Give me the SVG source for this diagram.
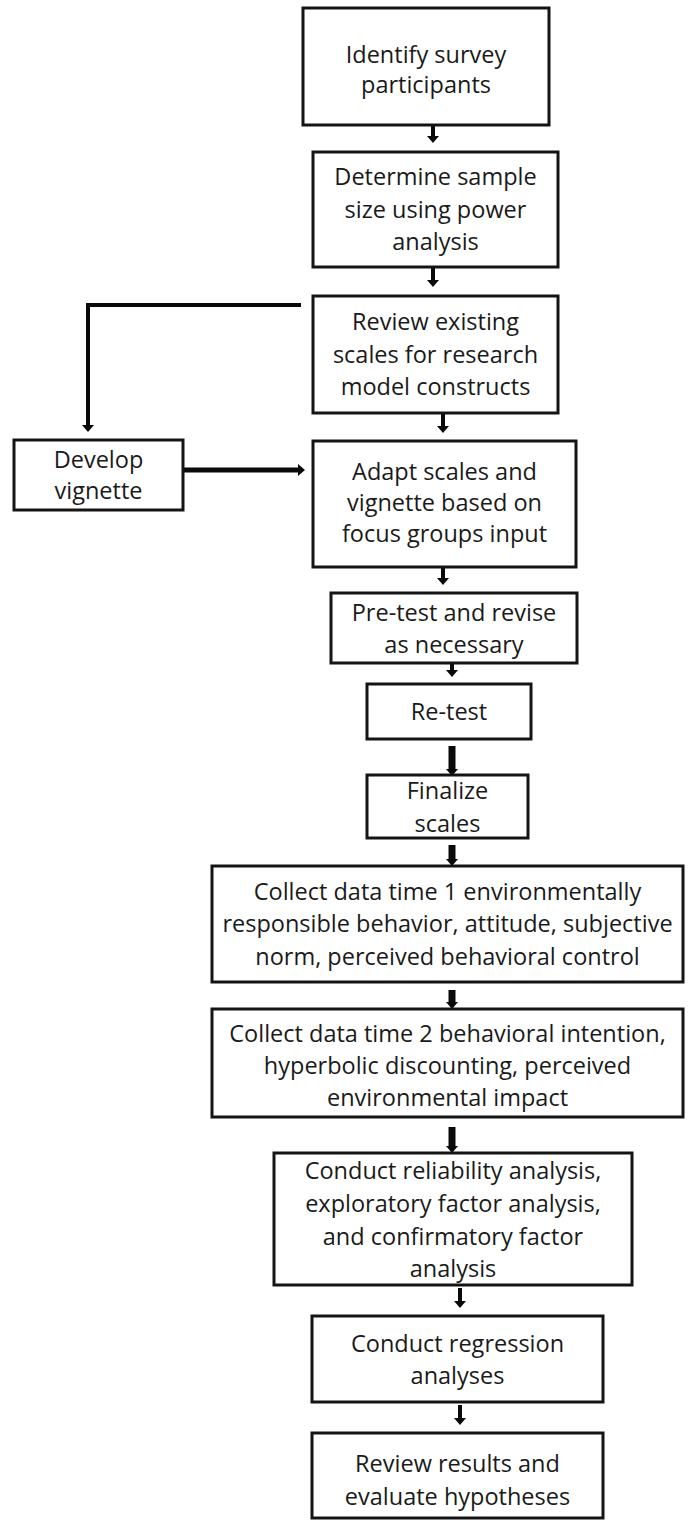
<svg xmlns="http://www.w3.org/2000/svg" width="699" height="1520" viewBox="0 0 699 1520">
  <style>
    .box { fill: #ffffff; stroke: #141414; stroke-width: 3; }
    .lbl { font-family: "Open Sans", "Liberation Sans", sans-serif; font-size: 23.5px; fill: #1a1a1a; text-anchor: middle; }
    .conn { fill: none; stroke: #0a0a0a; stroke-width: 4; }
    .conn.thick { stroke-width: 7; }
  </style>
  <defs>
    <marker id="head" markerUnits="userSpaceOnUse" viewBox="0 0 7 12" refX="0" refY="6" markerWidth="7" markerHeight="12" orient="auto">
      <path d="M0,0 L7,6 L0,12 Z" fill="#0a0a0a"/>
    </marker>
  </defs>
  <rect width="699" height="1520" fill="#ffffff"/>

  <!-- connectors -->
  <g id="connectors">
    <line class="conn" x1="433" y1="125" x2="433" y2="136" marker-end="url(#head)"/>
    <line class="conn" x1="433" y1="267" x2="433" y2="280" marker-end="url(#head)"/>
    <path class="conn" d="M301,305 H88 V425" marker-end="url(#head)"/>
    <line class="conn" x1="443" y1="413" x2="443" y2="426" marker-end="url(#head)"/>
    <line class="conn" x1="183" y1="470" x2="298" y2="470" style="stroke-width:5" marker-end="url(#head)"/>
    <line class="conn" x1="443" y1="567" x2="443" y2="578" marker-end="url(#head)"/>
    <line class="conn" x1="452" y1="663" x2="452" y2="670" marker-end="url(#head)"/>
    <line class="conn thick" x1="452" y1="746" x2="452" y2="769" marker-end="url(#head)"/>
    <line class="conn thick" x1="452" y1="845" x2="452" y2="859" marker-end="url(#head)"/>
    <line class="conn thick" x1="452" y1="990" x2="452" y2="1002" marker-end="url(#head)"/>
    <line class="conn thick" x1="452" y1="1127" x2="452" y2="1146" marker-end="url(#head)"/>
    <line class="conn" x1="460" y1="1288" x2="460" y2="1301" marker-end="url(#head)"/>
    <line class="conn" x1="460" y1="1405" x2="460" y2="1418" marker-end="url(#head)"/>
  </g>

  <g id="identify">
    <rect class="box" x="303" y="8" width="246" height="117"/>
    <text class="lbl" x="426" y="63">Identify survey</text>
    <text class="lbl" x="426" y="93">participants</text>
  </g>

  <g id="sample-size">
    <rect class="box" x="313" y="152" width="245" height="115"/>
    <text class="lbl" x="435.5" y="185">Determine sample</text>
    <text class="lbl" x="435.5" y="218">size using power</text>
    <text class="lbl" x="435.5" y="250">analysis</text>
  </g>

  <g id="review-scales">
    <rect class="box" x="313" y="296" width="245" height="117"/>
    <text class="lbl" x="435.5" y="330">Review existing</text>
    <text class="lbl" x="435.5" y="363">scales for research</text>
    <text class="lbl" x="435.5" y="395">model constructs</text>
  </g>

  <g id="develop-vignette">
    <rect class="box" x="14" y="440" width="169" height="70"/>
    <text class="lbl" x="98.5" y="468">Develop</text>
    <text class="lbl" x="98.5" y="499">vignette</text>
  </g>

  <g id="adapt-scales">
    <rect class="box" x="313" y="441" width="263" height="126"/>
    <text class="lbl" x="444.5" y="480">Adapt scales and</text>
    <text class="lbl" x="444.5" y="511">vignette based on</text>
    <text class="lbl" x="444.5" y="542">focus groups input</text>
  </g>

  <g id="pre-test">
    <rect class="box" x="331" y="593" width="246" height="70"/>
    <text class="lbl" x="454" y="621">Pre-test and revise</text>
    <text class="lbl" x="454" y="653">as necessary</text>
  </g>

  <g id="re-test">
    <rect class="box" x="367" y="684" width="164" height="55"/>
    <text class="lbl" x="449" y="720">Re-test</text>
  </g>

  <g id="finalize">
    <rect class="box" x="367" y="775" width="161" height="63"/>
    <text class="lbl" x="447.5" y="799">Finalize</text>
    <text class="lbl" x="447.5" y="832">scales</text>
  </g>

  <g id="collect-time1">
    <rect class="box" x="212" y="866" width="471" height="116"/>
    <text class="lbl" x="447.5" y="900">Collect data time 1 environmentally</text>
    <text class="lbl" x="447.5" y="932">responsible behavior, attitude, subjective</text>
    <text class="lbl" x="447.5" y="965">norm, perceived behavioral control</text>
  </g>

  <g id="collect-time2">
    <rect class="box" x="212" y="1009" width="471" height="108"/>
    <text class="lbl" x="447.5" y="1042">Collect data time 2 behavioral intention,</text>
    <text class="lbl" x="447.5" y="1074">hyperbolic discounting, perceived</text>
    <text class="lbl" x="447.5" y="1106">environmental impact</text>
  </g>

  <g id="factor-analysis">
    <rect class="box" x="274" y="1153" width="358" height="132"/>
    <text class="lbl" x="453" y="1179">Conduct reliability analysis,</text>
    <text class="lbl" x="453" y="1212">exploratory factor analysis,</text>
    <text class="lbl" x="453" y="1245">and confirmatory factor</text>
    <text class="lbl" x="453" y="1277">analysis</text>
  </g>

  <g id="regression">
    <rect class="box" x="312" y="1316" width="291" height="86"/>
    <text class="lbl" x="457.5" y="1352">Conduct regression</text>
    <text class="lbl" x="457.5" y="1384">analyses</text>
  </g>

  <g id="review-results">
    <rect class="box" x="312" y="1433" width="291" height="85"/>
    <text class="lbl" x="457.5" y="1472">Review results and</text>
    <text class="lbl" x="457.5" y="1505">evaluate hypotheses</text>
  </g>
</svg>
